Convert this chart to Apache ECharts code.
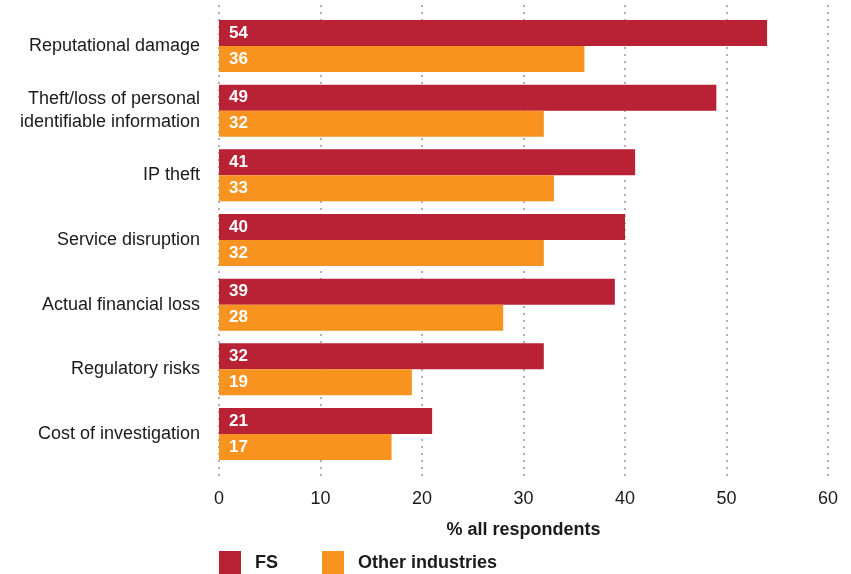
<!DOCTYPE html>
<html><head><meta charset="utf-8">
<script src="https://cdn.jsdelivr.net/npm/echarts@6/dist/echarts.min.js"></script>
<style>html,body{margin:0;padding:0;background:#fff}#c{width:851px;height:574px}</style>
</head><body><div id="c"></div>
<script>
const categories = ['Reputational damage','Theft/loss of personal\nidentifiable information','IP theft','Service disruption','Actual financial loss','Regulatory risks','Cost of investigation'];
const fsValues = [54,49,41,40,39,32,21];
const otherValues = [36,32,33,32,28,19,17];
const xTicks = [0,10,20,30,40,50,60];
const seriesNames = ['FS','Other industries'];
const colors = ['#B82234','#F7931E'];
const font = 'Liberation Sans, Arial, Helvetica, sans-serif';

const chart = echarts.init(document.getElementById('c'), null, {renderer:'canvas'});
const valLabel = {show:true, position:'insideLeft', distance:10, color:'#fff', fontWeight:'bold', fontSize:17, fontFamily:font};
chart.setOption({
  animation:false,
  textStyle:{fontFamily:font},
  legend:{left:214, top:546, itemWidth:22, itemHeight:24, itemGap:44, icon:'rect',
    data:seriesNames,
    textStyle:{fontSize:18, fontWeight:'bold', color:'#1a1a1a', padding:[0,0,0,9], fontFamily:font}},
  grid:[
    {left:219, right:23, top:5, bottom:95},
    {left:219, right:23, top:13.7, bottom:107.7}
  ],
  xAxis:[
    {gridIndex:0, type:'value', min:xTicks[0], max:xTicks[xTicks.length-1], interval:10,
     axisLine:{show:false}, axisTick:{show:false},
     axisLabel:{fontSize:18, color:'#1a1a1a', margin:11, fontFamily:font},
     splitLine:{show:true, lineStyle:{color:'#b8afab', width:2, type:[2,5]}},
     name:'% all respondents', nameLocation:'middle', nameGap:42,
     nameTextStyle:{fontSize:18, fontWeight:'bold', color:'#1a1a1a', fontFamily:font}},
    {gridIndex:1, type:'value', min:0, max:60, show:false}
  ],
  yAxis:[
    {gridIndex:0, type:'value', show:false},
    {gridIndex:1, type:'category', data:categories, inverse:true,
     axisLine:{show:false}, axisTick:{show:false},
     axisLabel:{fontSize:18, color:'#1a1a1a', margin:19, lineHeight:23, padding:[0,0,10,0], fontFamily:font}}
  ],
  series:[
    {name:seriesNames[0], type:'bar', xAxisIndex:1, yAxisIndex:1, data:fsValues,
     itemStyle:{color:colors[0]}, barGap:'0%', barCategoryGap:'19.6%', label:valLabel},
    {name:seriesNames[1], type:'bar', xAxisIndex:1, yAxisIndex:1, data:otherValues,
     itemStyle:{color:colors[1]}, barGap:'0%', barCategoryGap:'19.6%', label:valLabel}
  ]
});
</script></body></html>
